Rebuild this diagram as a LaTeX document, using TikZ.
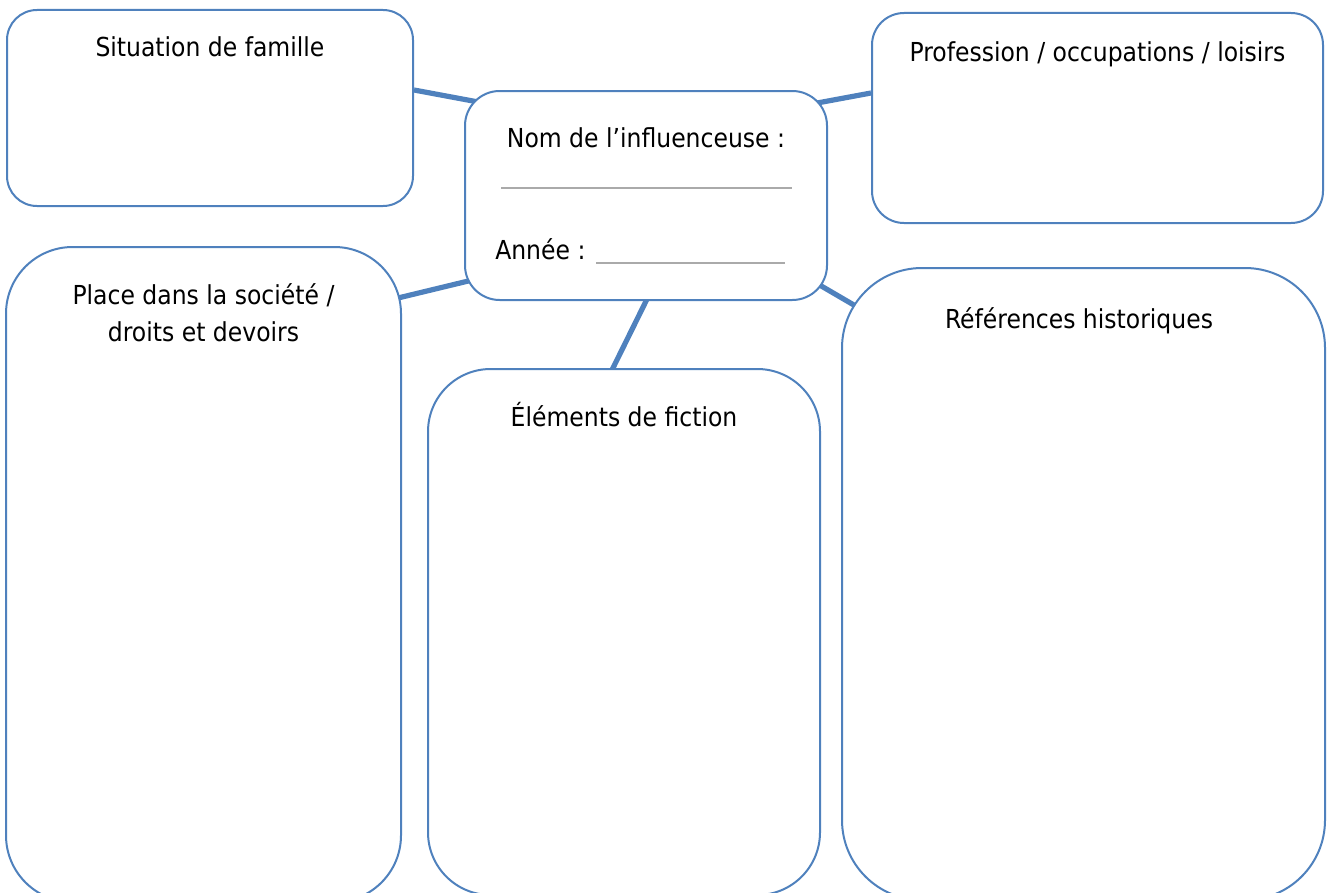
\documentclass[tikz,border=0pt]{standalone}
\usepackage{fontspec}
\setmainfont{DejaVu Sans Condensed}
\usepackage{color}
\definecolor{myblue}{RGB}{79,129,189}
\definecolor{mygray}{RGB}{170,170,170}
\usepackage{tikz}
\usetikzlibrary{fit,backgrounds,positioning}
\tikzstyle{box}=[draw=myblue,line width=1.5pt,fill=white,inner sep=0pt]
\tikzstyle{link}=[draw=myblue,line width=3.9pt]
\tikzstyle{boxtitle}=[anchor=base,inner sep=0pt,font=\fontsize{19.6}{23}\selectfont]
\tikzstyle{blank}=[draw=mygray,line width=1.1pt]

\begin{document}
\begin{tikzpicture}[x=0.75pt,y=-0.75pt]
\useasboundingbox (0,0) rectangle (1330,892);
\clip (0,0) rectangle (1330,892);
% boxes
\node[box,rounded corners=22.5pt,fit={(7,10) (413,206)}] (sit) {};
\node[box,rounded corners=26pt,fit={(465,91) (827,300)}] (cen) {};
\node[box,rounded corners=24pt,fit={(872,13) (1323,223)}] (pro) {};
\node[box,rounded corners=50pt,fit={(6,247) (401,902)}] (pla) {};
\node[box,rounded corners=47pt,fit={(428,369) (820,895)}] (ele) {};
\node[box,rounded corners=60pt,fit={(842,268) (1325,900)}] (ref) {};
% titles
\node[boxtitle] (sittxt) at ([shift={(0,47.5)}]sit.north) {Situation de famille};
\node[boxtitle] (nomtxt) at ([shift={(0,57)}]cen.north) {Nom de l’influenceuse :};
\node[boxtitle,anchor=base west] (anntxt) at ([shift={(31,63.5)}]cen.west) {Année :};
\node[boxtitle] (protxt) at ([shift={(0,49)}]pro.north) {Profession / occupations / loisirs};
\node[boxtitle] (platxt) at ([shift={(0,58)}]pla.north) {Place dans la société /};
\node[boxtitle] (platxtb) at ([shift={(0,95)}]pla.north) {droits et devoirs};
\node[boxtitle] (eletxt) at ([shift={(0,58)}]ele.north) {Éléments de fiction};
\node[boxtitle] (reftxt) at ([shift={(-4.5,61)}]ref.north) {Références historiques};
\draw[blank] (501,188) -- (792,188);
\draw[blank] (596,263) -- (785,263);
% links
\begin{scope}[on background layer]
  \draw[link] ([shift={(0,-18)}]sit.east) -- ([shift={(25,14)}]cen.north west);
  \draw[link] ([shift={(-27,16)}]cen.north east) -- ([shift={(0,-25)}]pro.west);
  \draw[link] ([shift={(-4,52)}]pla.north east) -- ([shift={(25,-25)}]cen.south west);
  \draw[link] ([shift={(5,-10)}]cen.south) -- ([shift={(-13,4)}]ele.north);
  \draw[link] ([shift={(-17,-21)}]cen.south east) -- ([shift={(18,41)}]ref.north west);
\end{scope}
\end{tikzpicture}
\end{document}
